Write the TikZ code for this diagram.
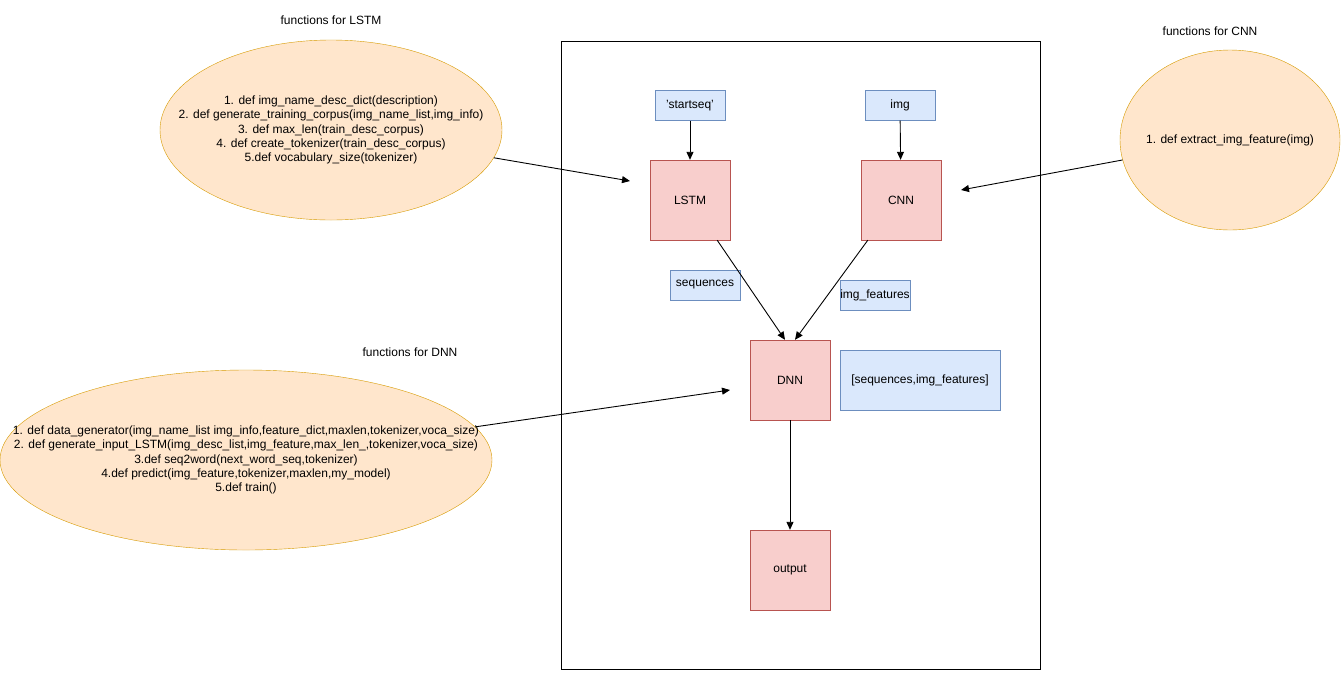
\documentclass[tikz,border=0pt]{standalone}
\usepackage{fontspec}
\setmainfont{Liberation Sans}
\usepackage{tikz}
\usetikzlibrary{arrows.meta,positioning,shapes.geometric}
\definecolor{ink}{HTML}{000000}
\definecolor{orfill}{HTML}{FFE6CC}
\definecolor{ordraw}{HTML}{D79B00}
\definecolor{rdfill}{HTML}{F8CECC}
\definecolor{rddraw}{HTML}{B85450}
\definecolor{blfill}{HTML}{DAE8FC}
\definecolor{bldraw}{HTML}{6C8EBF}
\tikzset{
  fnset/.style={ellipse,draw=ordraw,fill=orfill,inner sep=0pt},
  fntext/.style={align=center,font=\fontsize{12}{14.3}\selectfont},
  layer/.style={draw=rddraw,fill=rdfill,minimum width=80pt,minimum height=80pt,inner sep=0pt,font=\fontsize{12}{14}\selectfont},
  data/.style={draw=bldraw,fill=blfill,minimum height=30pt,inner sep=0pt,font=\fontsize{12}{14}\selectfont},
  lbl/.style={font=\fontsize{12}{14}\selectfont},
  arr/.style={-{Triangle[length=8pt,width=7pt]},draw=ink,line width=0.9pt}
}
\begin{document}
\begin{tikzpicture}[x=1pt,y=-1pt]
\useasboundingbox[fill=white] (0,0) rectangle (1341,673);
\node[draw=ink,line width=0.8pt,minimum width=479pt,minimum height=628pt,inner sep=0pt] (frame) at (800.5,355) {};
% network
\node[data,minimum width=70pt] (start) at (690,105.5) {'startseq'};
\node[data,minimum width=70pt] (img) at (900,105.5) {img};
\node[layer] (lstm) at (690,200) {LSTM};
\node[layer] (cnn) at (901,200) {CNN};
\node[data,minimum width=70pt] (seq) at (705,285) {sequences};
\node[data,minimum width=70pt] (feat) at (875,295) {img\_features};
\node[layer] (dnn) at (790,380) {DNN};
\node[data,minimum width=160pt,minimum height=60pt] (merge) at (920,380) {[sequences,img\_features]};
\node[layer] (out) at (790,570) {output};
% function lists
\node[lbl] (lstmhead) at (331,20) {functions for LSTM};
\node[fnset,minimum width=342pt,minimum height=180pt] (lstmfn) at (331,130) {};
\node[fntext] (lstmlist) at (lstmfn) {1. def img\_name\_desc\_dict(description)\\
2. def generate\_training\_corpus(img\_name\_list,img\_info)\\
3. def max\_len(train\_desc\_corpus)\\
4. def create\_tokenizer(train\_desc\_corpus)\\
5.def vocabulary\_size(tokenizer)};
\node[lbl] (cnnhead) at (1210,31) {functions for CNN};
\node[fnset,minimum width=220pt,minimum height=180pt] (cnnfn) at (1230,140) {};
\node[fntext] (cnnlist) at (cnnfn) {1. def extract\_img\_feature(img)};
\node[lbl] (dnnhead) at (410,352) {functions for DNN};
\node[fnset,minimum width=492pt,minimum height=180pt] (dnnfn) at (246,460) {};
\node[fntext] (dnnlist) at (dnnfn) {1. def data\_generator(img\_name\_list img\_info,feature\_dict,maxlen,tokenizer,voca\_size)\\
2. def generate\_input\_LSTM(img\_desc\_list,img\_feature,max\_len\_,tokenizer,voca\_size)\\
3.def seq2word(next\_word\_seq,tokenizer)\\
4.def predict(img\_feature,tokenizer,maxlen,my\_model)\\
5.def train()};
\coordinate (lstmin) at (630,181);
\coordinate (cnnin) at (961,190);
\coordinate (dnnin) at (730,390);
% connectors
\draw[arr] (start) -- (lstm);
\draw[arr] (img) -- (cnn);
\draw[arr] ([xshift=-13pt]lstm.south east) -- ([xshift=-5pt]dnn.north);
\draw[arr] ([xshift=7pt]cnn.south west) -- ([xshift=5pt]dnn.north);
\draw[arr] (dnn) -- (out);
\draw[arr] (lstmfn) -- (lstmin);
\draw[arr] (cnnfn) -- (cnnin);
\draw[arr] (dnnfn) -- (dnnin);
\end{tikzpicture}
\end{document}
